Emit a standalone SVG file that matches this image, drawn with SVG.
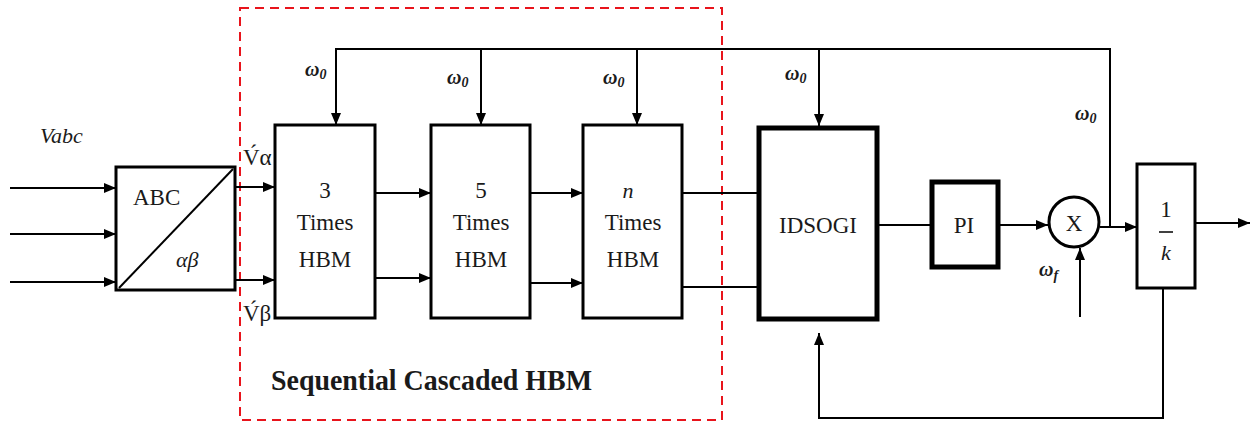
<svg xmlns="http://www.w3.org/2000/svg" width="1255" height="426" viewBox="0 0 1255 426">
<style>
.box{fill:#fff;stroke:#000;stroke-width:3}
.thick{fill:#fff;stroke:#000;stroke-width:5}
.ln{fill:none;stroke:#000;stroke-width:2}
text{font-family:'Liberation Serif','Times New Roman','DejaVu Serif',serif;fill:#1a1a1a}
.t{font-size:23px}
.i{font-style:italic;font-size:22px}
.w{font-style:italic;font-weight:bold;font-size:20px}
.h{font-weight:bold;font-size:30px}
</style>
<defs>
<marker id="ah" viewBox="0 0 12 10" refX="12" refY="5" markerWidth="12" markerHeight="10" markerUnits="userSpaceOnUse" orient="auto">
<path d="M0,0 L12,5 L0,10 Z" fill="#000"/>
</marker>
</defs>
<rect x="240" y="8" width="482" height="412" fill="none" stroke="#e8141c" stroke-width="2" stroke-dasharray="9,6"/>
<g id="connectors">
<path class="ln" d="M10,188 H116" marker-end="url(#ah)"/>
<path class="ln" d="M10,234 H116" marker-end="url(#ah)"/>
<path class="ln" d="M10,282 H116" marker-end="url(#ah)"/>
<path class="ln" d="M235,187 H275" marker-end="url(#ah)"/>
<path class="ln" d="M235,280 H275" marker-end="url(#ah)"/>
<path class="ln" d="M375,193 H431" marker-end="url(#ah)"/>
<path class="ln" d="M375,278 H431" marker-end="url(#ah)"/>
<path class="ln" d="M530,193 H583" marker-end="url(#ah)"/>
<path class="ln" d="M530,283 H583" marker-end="url(#ah)"/>
<path class="ln" d="M682,193 H757"/>
<path class="ln" d="M682,287 H757"/>
<path class="ln" d="M336,125 V49 H1110 V227"/>
<path class="ln" d="M336,49 V125" marker-end="url(#ah)"/>
<path class="ln" d="M481,49 V125" marker-end="url(#ah)"/>
<path class="ln" d="M637,49 V125" marker-end="url(#ah)"/>
<path class="ln" d="M819,49 V126" marker-end="url(#ah)"/>
<path class="ln" d="M878,225 H931"/>
<path class="ln" d="M999,225 H1048" marker-end="url(#ah)"/>
<path class="ln" d="M1100,227 H1137" marker-end="url(#ah)"/>
<path class="ln" d="M1080,317 V248" marker-end="url(#ah)"/>
<path class="ln" d="M1195,223 H1250" marker-end="url(#ah)"/>
<path class="ln" d="M1163,288 V418 H819 V333" marker-end="url(#ah)"/>
</g>
<g id="abc">
<rect class="box" x="116" y="167" width="119" height="123"/>
<path class="ln" d="M119,288 L233,169"/>
<text class="t" x="133" y="205">ABC</text>
<text class="i" x="176" y="267">αβ</text>
</g>
<g id="hbm3">
<rect class="box" x="275" y="125" width="100" height="193"/>
<text class="t" text-anchor="middle" x="325" y="198">3</text>
<text class="t" text-anchor="middle" x="325" y="230">Times</text>
<text class="t" text-anchor="middle" x="325" y="267">HBM</text>
</g>
<g id="hbm5">
<rect class="box" x="431" y="125" width="99" height="193"/>
<text class="t" text-anchor="middle" x="481" y="198">5</text>
<text class="t" text-anchor="middle" x="481" y="230">Times</text>
<text class="t" text-anchor="middle" x="481" y="267">HBM</text>
</g>
<g id="hbmn">
<rect class="box" x="583" y="125" width="99" height="193"/>
<text class="i" text-anchor="middle" x="628" y="198">n</text>
<text class="t" text-anchor="middle" x="633" y="230">Times</text>
<text class="t" text-anchor="middle" x="633" y="267">HBM</text>
</g>
<g id="idsogi">
<rect class="thick" x="759" y="128" width="118" height="191"/>
<text class="t" text-anchor="middle" x="818" y="233">IDSOGI</text>
</g>
<g id="pi">
<rect class="thick" x="932" y="182" width="66" height="85"/>
<text class="t" text-anchor="middle" x="964" y="233">PI</text>
</g>
<g id="mult">
<circle cx="1074" cy="222" r="25" fill="#fff" stroke="#000" stroke-width="3"/>
<text class="t" text-anchor="middle" x="1074" y="231">X</text>
</g>
<g id="gain">
<rect class="box" x="1137" y="164" width="58" height="124"/>
<text class="t" text-anchor="middle" x="1166" y="217">1</text>
<path d="M1159,232 H1173" stroke="#000" stroke-width="1.5"/>
<text class="i" text-anchor="middle" x="1166" y="260">k</text>
</g>
<g id="labels">
<text class="i" x="40" y="143">Vabc</text>
<text class="t" x="243" y="165">V́α</text>
<text class="t" x="243" y="321">V́β</text>
<text class="w" x="305" y="76">ω<tspan font-size="14" dy="3">0</tspan></text>
<text class="w" x="447" y="84">ω<tspan font-size="14" dy="3">0</tspan></text>
<text class="w" x="603" y="84">ω<tspan font-size="14" dy="3">0</tspan></text>
<text class="w" x="785" y="80">ω<tspan font-size="14" dy="3">0</tspan></text>
<text class="w" x="1075" y="120">ω<tspan font-size="14" dy="3">0</tspan></text>
<text class="w" x="1039" y="276">ω<tspan font-size="14" dy="4">f</tspan></text>
<text class="h" x="271" y="390" textLength="321" lengthAdjust="spacingAndGlyphs">Sequential Cascaded HBM</text>
</g>
</svg>
